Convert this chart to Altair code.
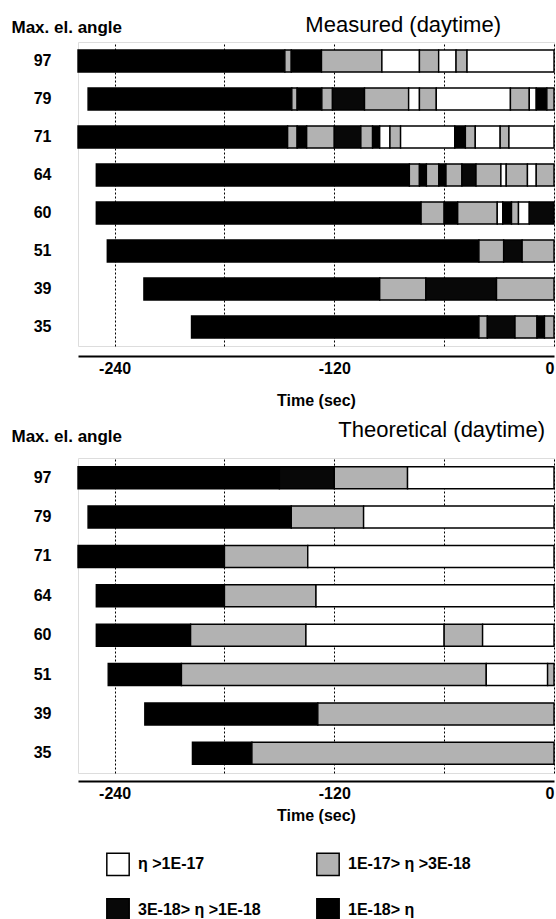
import altair as alt
import pandas as pd

# ---------------- data ----------------
angles = [97, 79, 71, 64, 60, 51, 39, 35]
cat_labels = ["η >1E-17", "1E-17> η >3E-18", "3E-18> η >1E-18", "1E-18> η"]
cat_codes = ["W", "D", "B", "K"]
cat_colors = ["#ffffff", "#b2b2b2", "#080808", "#000000"]

# Measured (daytime): segment edges (sec) and categories per row
m97_edges = [-260, -147, -143.5, -127, -94, -73.5, -63, -53.5, -47.5, 0]
m97_cats = ["K", "D", "K", "D", "W", "D", "W", "D", "W"]
m79_edges = [-254.5, -143.2, -140.3, -126.8, -121, -103.5, -79.4, -73.5, -64.3, -23.8, -13.5, -9.7, -3.9, 0]
m79_cats = ["K", "D", "K", "D", "B", "D", "W", "D", "W", "D", "W", "K", "D"]
m71_edges = [-260, -145.5, -140.3, -135.1, -120, -105.5, -99.1, -95.2, -89.6, -83.8, -54.2, -48.4, -43, -29.4, -24.6, 0]
m71_cats = ["K", "D", "K", "D", "B", "D", "K", "W", "D", "W", "K", "D", "W", "D", "W"]
m64_edges = [-250, -79, -73.5, -69.7, -62.9, -59, -50.3, -42.6, -29, -26.1, -14.5, -9.7, 0]
m64_cats = ["K", "D", "K", "D", "K", "D", "B", "D", "W", "D", "W", "D"]
m60_edges = [-250, -72.6, -60, -52.6, -31, -28, -23.2, -19.4, -13.5, 0]
m60_cats = ["K", "D", "K", "D", "W", "K", "D", "W", "B"]
m51_edges = [-244, -41, -27.5, -17.4, 0]
m51_cats = ["K", "D", "B", "D"]
m39_edges = [-224, -95.2, -70, -31.4, 0]
m39_cats = ["K", "D", "B", "D"]
m35_edges = [-198, -41, -36.4, -21.3, -9.3, -5.2, 0]
m35_cats = ["K", "D", "B", "D", "K", "D"]

# Theoretical (daytime)
t97_edges = [-260, -150, -120, -80, 0]
t97_cats = ["K", "B", "D", "W"]
t79_edges = [-254.5, -143.5, -104, 0]
t79_cats = ["K", "D", "W"]
t71_edges = [-260, -180, -134.5, 0]
t71_cats = ["K", "D", "W"]
t64_edges = [-250, -180, -130, 0]
t64_cats = ["K", "D", "W"]
t60_edges = [-250, -198.5, -135.5, -60, -39, 0]
t60_cats = ["K", "D", "W", "D", "W"]
t51_edges = [-243.5, -203.5, -37, -3.5, 0]
t51_cats = ["K", "D", "W", "D"]
t39_edges = [-223.5, -129, 0]
t39_cats = ["K", "D"]
t35_edges = [-197.5, -165, 0]
t35_cats = ["K", "D"]

x_labels = [-240, -120, 0]
x_grid = [-240, -180, -120, -60, 0]

measured_rows = [
    (97, m97_edges, m97_cats), (79, m79_edges, m79_cats), (71, m71_edges, m71_cats),
    (64, m64_edges, m64_cats), (60, m60_edges, m60_cats), (51, m51_edges, m51_cats),
    (39, m39_edges, m39_cats), (35, m35_edges, m35_cats),
]
theoretical_rows = [
    (97, t97_edges, t97_cats), (79, t79_edges, t79_cats), (71, t71_edges, t71_cats),
    (64, t64_edges, t64_cats), (60, t60_edges, t60_cats), (51, t51_edges, t51_cats),
    (39, t39_edges, t39_cats), (35, t35_edges, t35_cats),
]


def build(rows):
    recs = []
    for angle, edges, cats in rows:
        for i, c in enumerate(cats):
            recs.append({
                "angle": str(angle),
                "start": edges[i],
                "end": edges[i + 1],
                "cat": cat_labels[cat_codes.index(c)],
            })
    return pd.DataFrame(recs)


FONT = "Liberation Sans"

legend = alt.Legend(
    title=None, orient="none", legendX=28, legendY=810, columns=2, direction="horizontal",
    symbolType="square", symbolSize=500, symbolStrokeColor="black",
    symbolStrokeWidth=1.5, symbolOpacity=1, labelFont=FONT, labelFontSize=16,
    labelFontWeight="bold", labelColor="black", columnPadding=52, rowPadding=16,
    labelOffset=8, labelLimit=300,
)


def panel(df, title, height, ytitle_y, title_dy, title_dx, xtitle_pad, x_offset):
    return alt.Chart(df).mark_bar(stroke="black", strokeWidth=1.4, size=22).encode(
        x=alt.X(
            "start:Q",
            scale=alt.Scale(domain=[-260, 0], nice=False, zero=False),
            axis=alt.Axis(
                values=x_grid, title="Time (sec)", titleFont=FONT, titleFontSize=16,
                titleFontWeight="bold", titleColor="black", titlePadding=xtitle_pad,
                labelExpr="indexof([" + ",".join(str(v) for v in x_labels) + "], datum.value) >= 0 ? '' + datum.value : ''",
                labelFont=FONT, labelFontSize=16, labelFontWeight="bold", labelColor="black",
                labelPadding=4, ticks=False, domainColor="black", domainWidth=2,
                grid=True, gridColor="black", gridDash=[2, 2], gridWidth=1, gridOpacity=1,
                offset=x_offset,
            ),
        ),
        x2="end:Q",
        y=alt.Y(
            "angle:N",
            sort=[str(a) for a in angles],
            scale=alt.Scale(paddingInner=0, paddingOuter=0),
            axis=alt.Axis(
                title="Max. el. angle", titleAngle=0, titleAlign="left", titleBaseline="middle",
                titleX=-67, titleY=ytitle_y, titleFont=FONT, titleFontSize=17,
                titleFontWeight="bold", titleColor="black",
                labelFont=FONT, labelFontSize=16, labelFontWeight="bold", labelColor="black",
                labelPadding=27, ticks=False, domain=False, grid=False,
            ),
        ),
        color=alt.Color(
            "cat:N",
            scale=alt.Scale(domain=cat_labels, range=cat_colors),
            legend=legend,
        ),
    ).properties(
        width=476, height=height,
        title=alt.TitleParams(
            text=title, anchor="end", fontSize=22, fontWeight="normal", font=FONT,
            color="black", dx=title_dx, dy=title_dy, offset=0, frame="group",
        ),
    )


top = panel(build(measured_rows), "Measured (daytime)", 304, -15, 19, -53, 16, 10)
bottom = panel(build(theoretical_rows), "Theoretical (daytime)", 315, -22, 15, -9, 6, 8)

chart = alt.vconcat(top, bottom, spacing=9).properties(
    padding={"left": 10, "top": 13, "right": 0, "bottom": 0}
).configure_view(stroke=None).configure(font=FONT, background="white")

chart.save("out.html", embed_options={"renderer": "svg", "actions": False})
